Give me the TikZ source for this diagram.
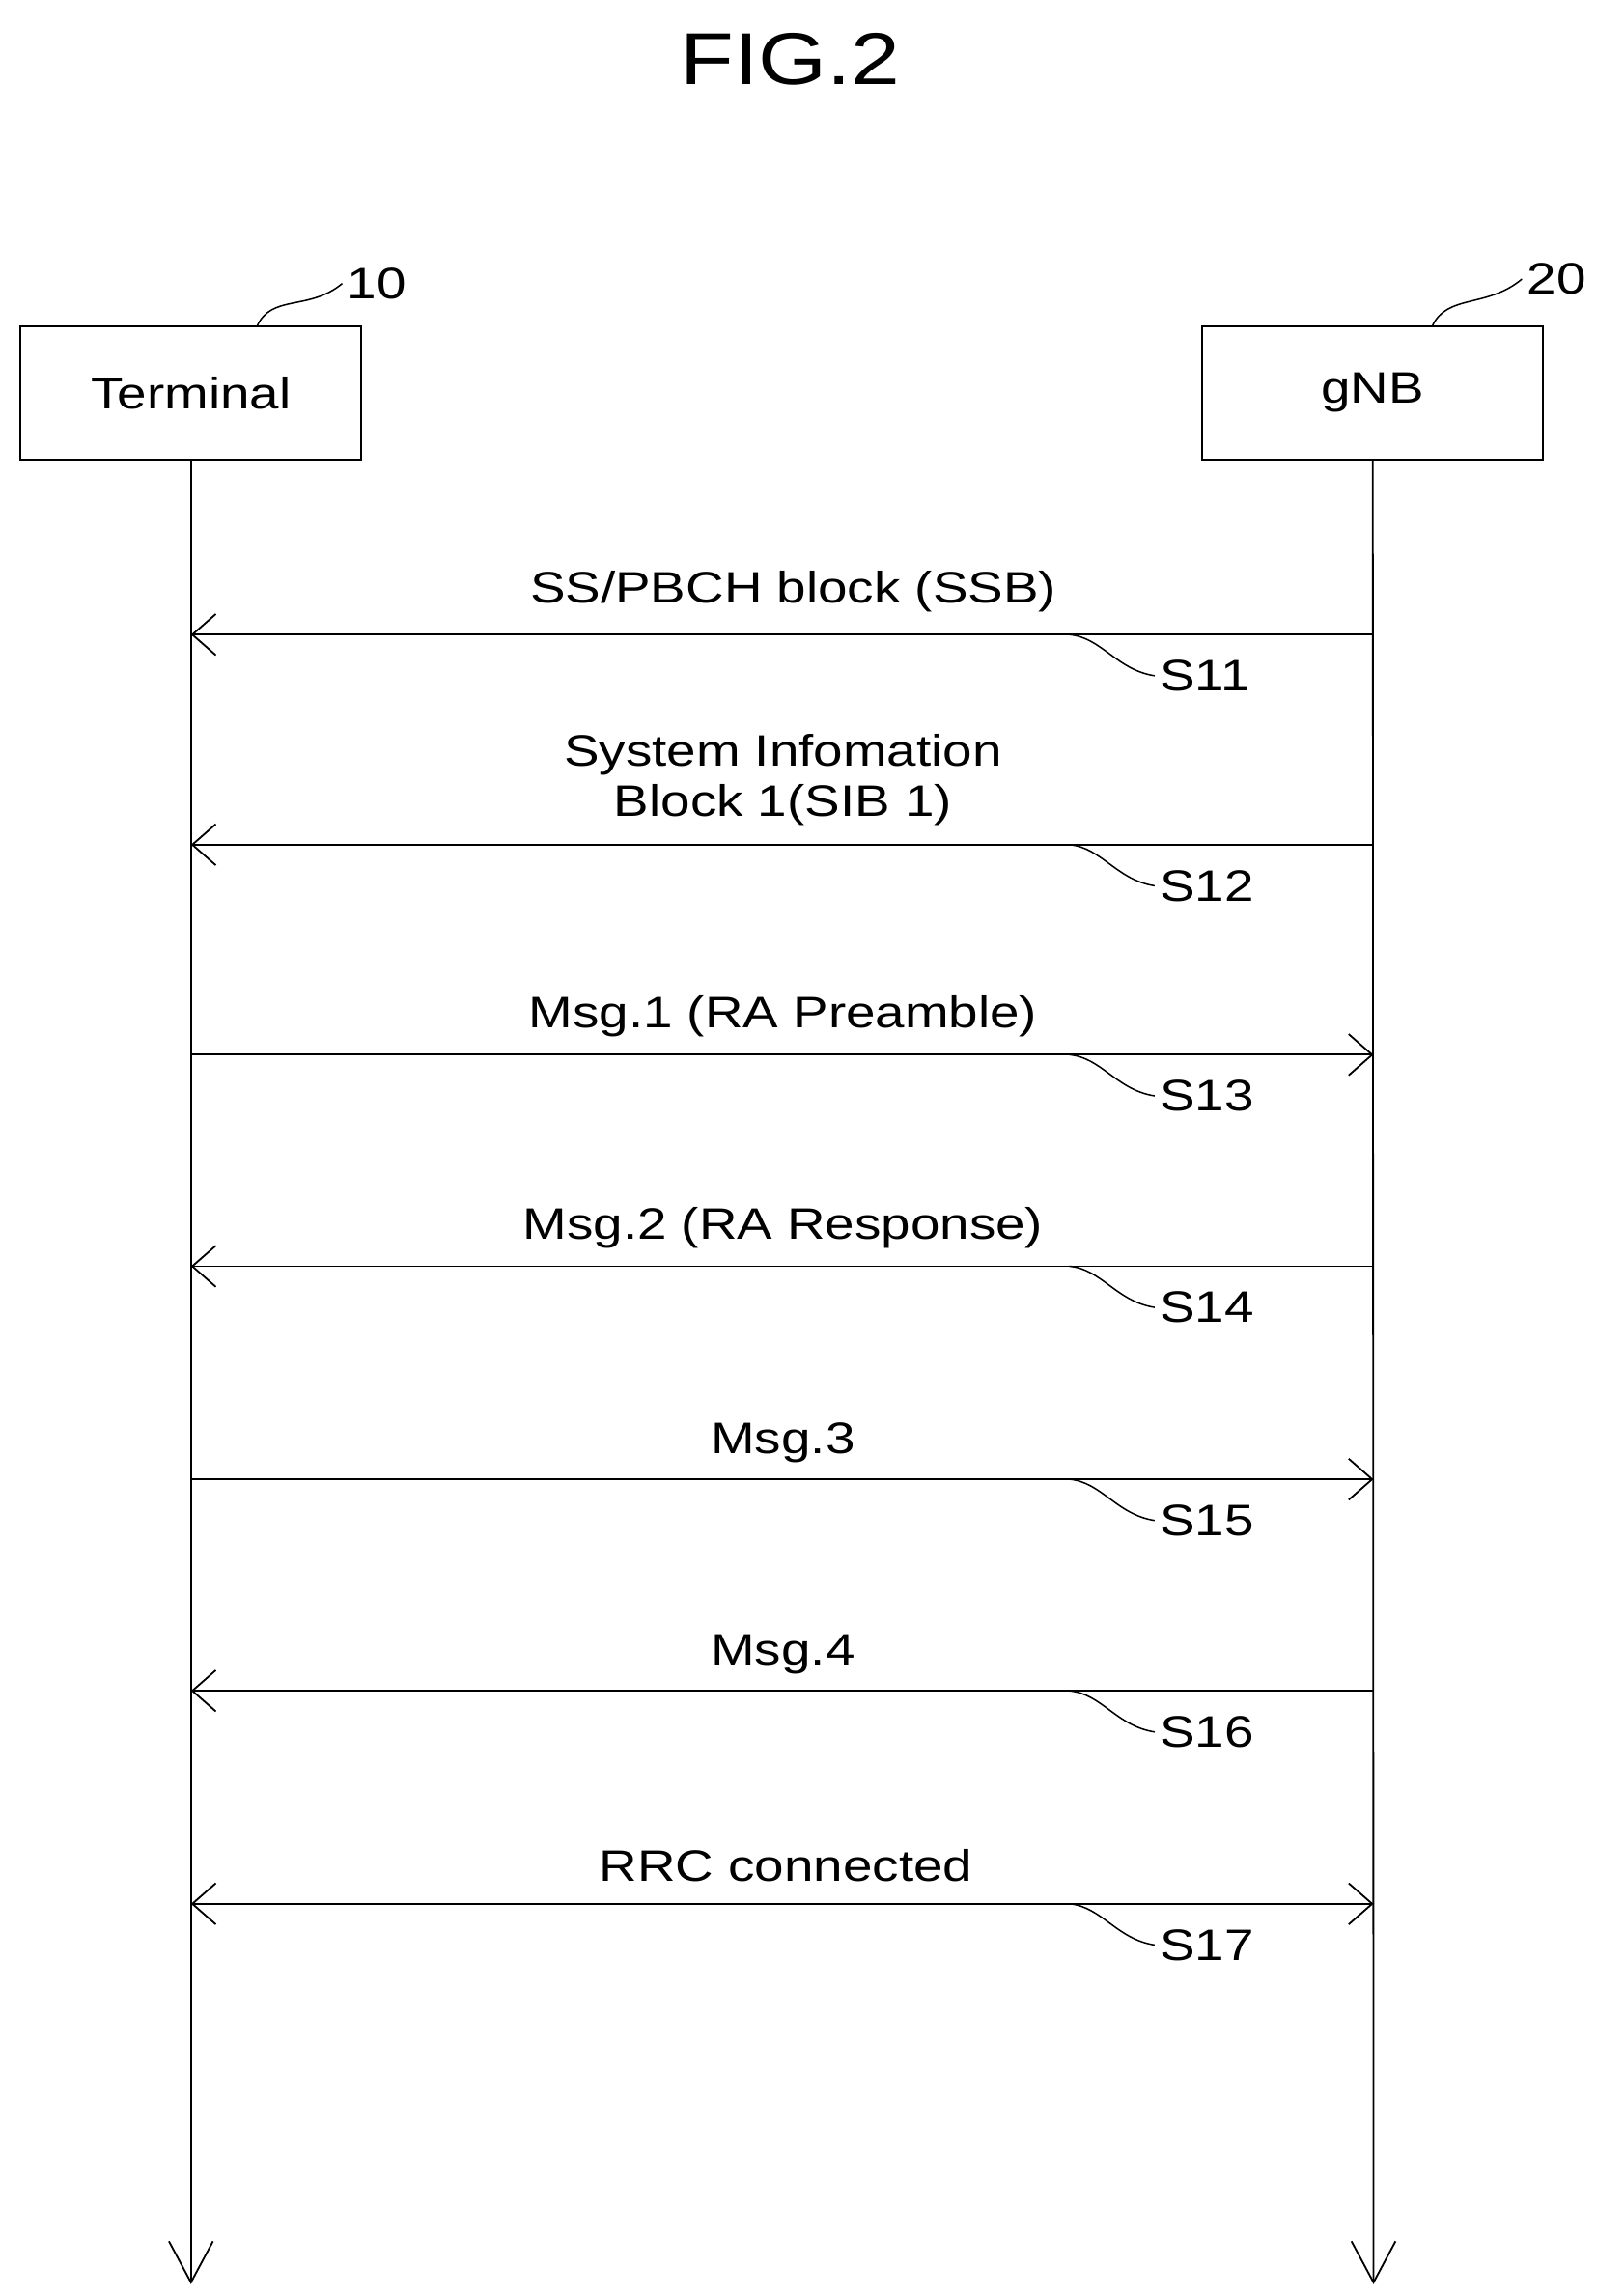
\documentclass[tikz,border=0pt]{standalone}
\usepackage{fontspec}
\setmainfont{Liberation Sans}
\newfontfamily\widefont[FakeStretch=1.2]{Liberation Sans}
\usetikzlibrary{arrows.meta}
\begin{document}
\begin{tikzpicture}[x=1pt,y=-1pt,
  lbl/.style={font=\widefont\fontsize{30}{34}\selectfont},
  box/.style={draw,line width=1.3pt,minimum width=232pt,minimum height=91pt,font=\widefont\fontsize{30}{34}\selectfont},
  msg/.style={line width=1.2pt,-{Straight Barb[length=16pt,width=28pt,line width=1.2pt]}},
  life/.style={line width=1.2pt,-{Straight Barb[length=28pt,width=30pt,line width=1.2pt]}},
  lead/.style={line width=1pt}]
\useasboundingbox (0,0) rectangle (1087,1563);
\node[font=\widefont\fontsize{50}{56}\selectfont] (title) at (538,40) {FIG.2};
\node[box] (t) at (130,267.5) {Terminal};
\node[box] (g) at (934.5,267.5) {gNB};
\node[lbl,anchor=west] (n10) at (233,193) {10};
\node[lbl,anchor=west] (n20) at (1036,190) {20};
\draw[lead] (175,222) .. controls (185,200) and (210,212) .. (n10.west);
\draw[lead] (975,222) .. controls (985,200) and (1012,210) .. (n20.west);
\coordinate (te) at (130,1555);
\coordinate (ge) at (935,1555);
\draw[life] (t.south) -- (te);
\draw[life] (g.south) -- (ge);
\foreach \y/\s in {432/11,575/12,718/13,862/14,1007/15,1151/16,1296/17}{
  \coordinate (a\s) at (130,\y);
  \coordinate (b\s) at (935,\y);
  \node[lbl,anchor=west] (s\s) at (786,\y+28) {S\s};
  \draw[lead] (728,\y) .. controls (750,\y+2) and (760,\y+24) .. (s\s.west);
}
\draw[msg] (b11) -- (a11);
\draw[msg] (b12) -- (a12);
\draw[msg] (a13) -- (b13);
\draw[msg] (b14) -- (a14);
\draw[msg] (a15) -- (b15);
\draw[msg] (b16) -- (a16);
\draw[msg,{Straight Barb[length=16pt,width=28pt,line width=1.2pt]}-{Straight Barb[length=16pt,width=28pt,line width=1.2pt]}] (a17) -- (b17);
\node[lbl] (m11) at (540,403) {SS/PBCH block (SSB)};
\node[lbl,align=center] (m12) at (533,531) {System Infomation\\Block 1(SIB 1)};
\node[lbl] (m13) at (533,692) {Msg.1 (RA Preamble)};
\node[lbl] (m14) at (533,836) {Msg.2 (RA Response)};
\node[lbl] (m15) at (533,982) {Msg.3};
\node[lbl] (m16) at (533,1126) {Msg.4};
\node[lbl] (m17) at (535,1270) {RRC connected};
\end{tikzpicture}
\end{document}
